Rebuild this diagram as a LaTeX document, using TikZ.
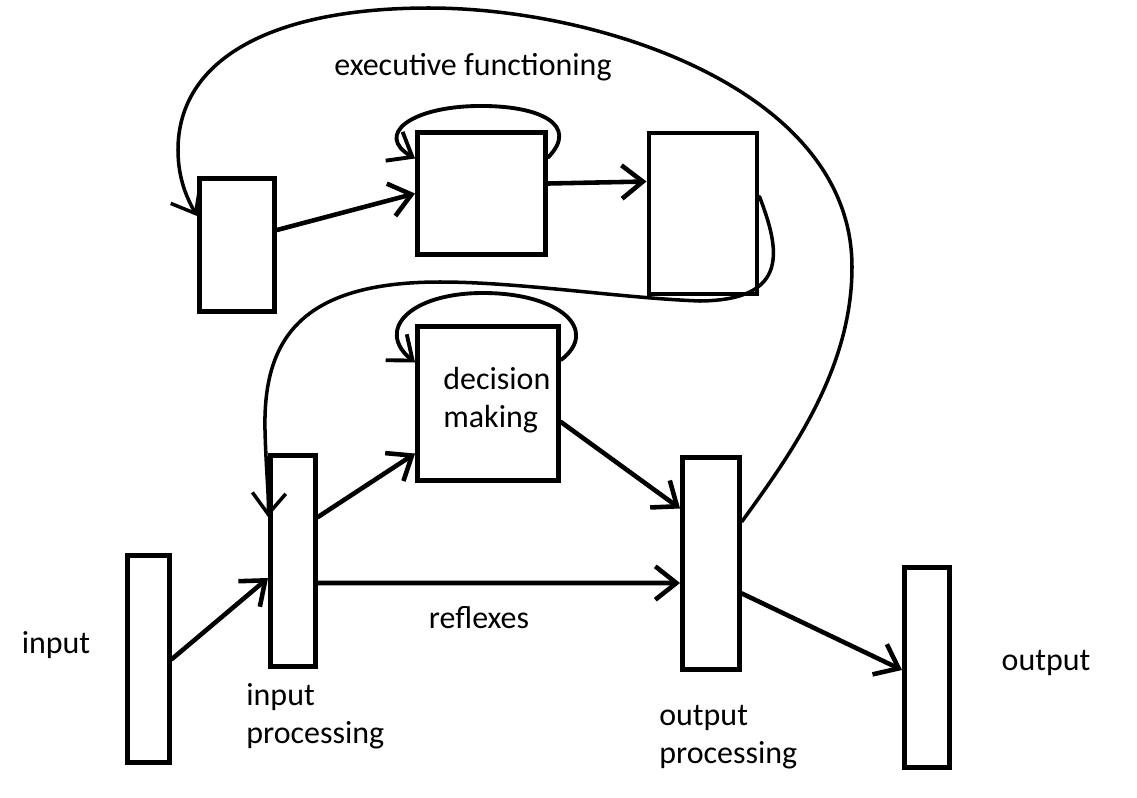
\documentclass[tikz,border=0pt]{standalone}
\usepackage{fontspec}
\setmainfont{Carlito}
\usetikzlibrary{arrows.meta,calc}

\tikzset{
  box/.style 2 args={draw, line width=2.8pt, inner sep=0pt,
    minimum width=#1*0.02cm, minimum height=#2*0.02cm},
  lbl/.style={font=\fontsize{18.2}{21.6}\selectfont, inner sep=0pt, align=left},
  arr/.style={line width=2.6pt, line cap=round, -{Straight Barb[length=12pt,width=19pt]}},
  selfloop/.style={arr, line width=2.2pt},
  fbcurve/.style={arr, line width=2pt}
}

\begin{document}
\begin{tikzpicture}[x=0.02cm, y=-0.02cm]

% Area (pixel grid, y verso il basso)
\useasboundingbox (0,0) rectangle (1137,798);

% Blocchi
\node[box={42}{207}] (inp) at (148.5,659) {};
\node[box={45}{211}] (inproc) at (293,561) {};
\node[box={141}{154}] (dec) at (488,403.5) {};
\node[box={57}{212}] (outproc) at (711,563.5) {};
\node[box={45}{200}] (outp) at (927,667.5) {};
\node[box={75}{133}] (exA) at (237,245) {};
\node[box={128}{122}] (exB) at (481.5,193.5) {};
\node[box={108}{161}] (exC) at (703,213.5) {};

% Etichette
\node[lbl, anchor=base] (tIn) at (56,653) {input};
\node[lbl, anchor=base west] (tInproc) at (246,743) {input\\processing};
\node[lbl, anchor=base] (tRefl) at (479,628) {reflexes};
\node[lbl, anchor=base west] (tOutproc) at (659,763) {output\\processing};
\node[lbl, anchor=base] (tOut) at (1046,670) {output};
\node[lbl, anchor=base] (tExec) at (473,75) {executive functioning};
\node[lbl, anchor=base west] (tDec) at (443,427) {decision\\making};

% Frecce dirette
\draw[arr] (inp.east) -- ($(inproc.west)+(0,17)$);
\draw[arr] ($(inproc.east)+(0,-44)$) -- ($(dec.west)+(0,50)$);
\draw[arr] ($(inproc.east)+(0,22)$) -- ($(outproc.west)+(0,19.5)$);
\draw[arr] ($(dec.east)+(0,18.5)$) -- ($(outproc.west)+(0,-55)$);
\draw[arr] ($(outproc.east)+(0,30)$) -- ($(outp.west)+(0,2.5)$);
\draw[arr] ($(exA.east)+(0,-15)$) -- (exB.west);
\draw[arr] ($(exB.east)+(0,-10)$) -- ($(exC.west)+(0,-32)$);

% Anelli
\draw[selfloop] ($(exB.east)+(0,-36)$) .. controls (580,125) and (540,105) .. (477,106)
  .. controls (410,107) and (375,135) .. ($(exB.west)+(0,-35)$);
\draw[selfloop] ($(dec.east)+(0,-43.5)$) .. controls (600,330) and (560,293) .. (483,293)
  .. controls (410,293) and (375,330) .. ($(dec.west)+(0,-41)$);

% Retroazioni
\draw[fbcurve] ($(outproc.east)+(0,-42)$) .. controls (790,455) and (852,370) .. (852,267)
  .. controls (852,90) and (600,8) .. (429,8)
  .. controls (270,8) and (178,60) .. (178,150)
  .. controls (178,180) and (188,200) .. ($(exA.west)+(0,-29)$);
\draw[fbcurve] ($(exC.east)+(0,-17)$) .. controls (780,250) and (790,300) .. (700,301)
  .. controls (620,298) and (520,282) .. (440,282)
  .. controls (300,282) and (263,340) .. (265,430)
  .. controls (266,470) and (269,495) .. ($(inproc.west)+(0,-44)$);

\end{tikzpicture}
\end{document}
